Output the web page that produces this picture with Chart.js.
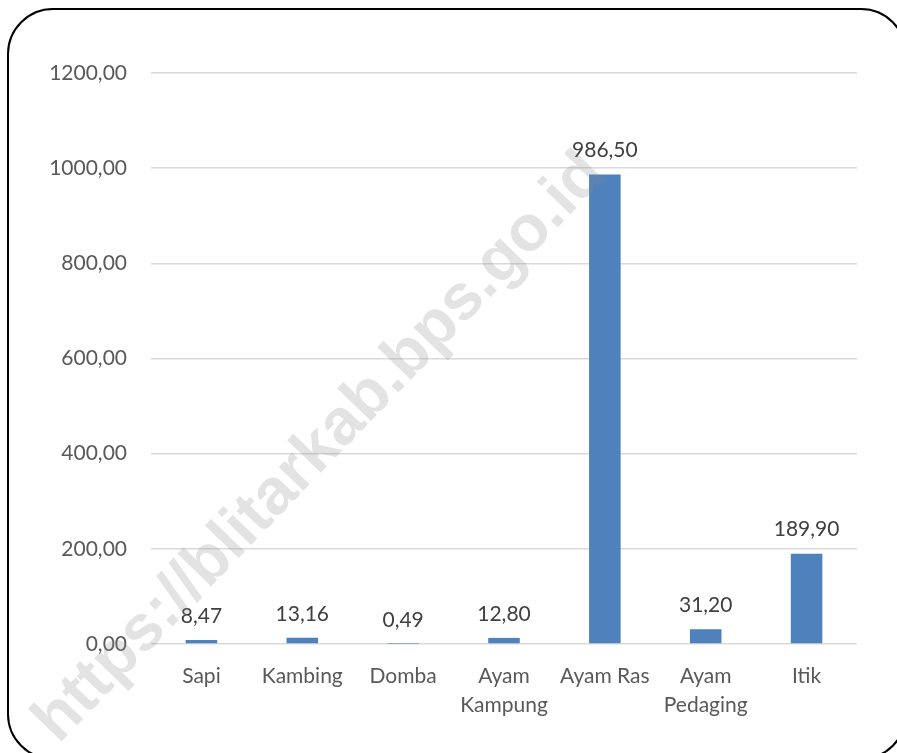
<!DOCTYPE html>
<html>
<head>
<meta charset="utf-8">
<script src="https://cdn.jsdelivr.net/npm/chart.js@4.4.1/dist/chart.umd.min.js"></script>
<style>
  html, body { margin: 0; padding: 0; background: #fff; overflow: hidden; }
  #wrap { position: relative; width: 897px; height: 753px; }
  #frame {
    position: absolute; left: 7px; top: 8px; width: 900px; height: 752px;
    border: 2px solid #000; border-radius: 46px; box-sizing: border-box;
    pointer-events: none;
  }
  canvas { position: absolute; left: 0; top: 0; }
</style>
</head>
<body>
<div id="wrap">
  <canvas id="chart" width="897" height="753"></canvas>
  <div id="frame"></div>
</div>
<script>
var categories = [['Sapi'], ['Kambing'], ['Domba'], ['Ayam', 'Kampung'], ['Ayam Ras'], ['Ayam', 'Pedaging'], ['Itik']];
var values = [8.47, 13.16, 0.49, 12.80, 986.50, 31.20, 189.90];
var yTicks = [0, 200, 400, 600, 800, 1000, 1200];
var watermark = 'https://blitarkab.bps.go.id';

var fontFamily = 'Lato, "Open Sans", sans-serif';
var fontSize = 21;

function fmt(v) {
    return v.toFixed(2).replace('.', ',');
}

// value labels above each bar
var valueLabels = {
    id: 'valueLabels',
    afterDatasetsDraw: function(chart) {
        var ctx = chart.ctx;
        var meta = chart.getDatasetMeta(0);
        ctx.save();
        ctx.font = fontSize + 'px ' + fontFamily;
        ctx.fillStyle = '#404040';
        ctx.textAlign = 'center';
        ctx.textBaseline = 'middle';
        meta.data.forEach(function(bar, i) {
            ctx.fillText(fmt(values[i]), bar.x, bar.y - 24);
        });
        ctx.restore();
    }
};

// diagonal watermark over the chart
var watermarkPlugin = {
    id: 'watermark',
    afterDraw: function(chart) {
        var ctx = chart.ctx;
        ctx.save();
        ctx.font = 'bold 64px "Liberation Sans", Arial, sans-serif';
        var w = ctx.measureText(watermark).width;
        var size = 64 * 790 / w;
        ctx.font = 'bold ' + size + 'px "Liberation Sans", Arial, sans-serif';
        ctx.translate(320, 448);
        ctx.rotate(-46 * Math.PI / 180);
        ctx.fillStyle = 'rgba(140, 140, 140, 0.24)';
        ctx.textAlign = 'center';
        ctx.textBaseline = 'middle';
        ctx.fillText(watermark, 0, 0);
        ctx.restore();
    }
};

var ctx = document.getElementById('chart').getContext('2d');
var chart = new Chart(ctx, {
    type: 'bar',
    data: {
        labels: categories,
        datasets: [{
            data: values,
            backgroundColor: '#4F81BD',
            borderWidth: 0,
            barPercentage: 0.313,
            categoryPercentage: 1.0
        }]
    },
    options: {
        responsive: false,
        animation: false,
        events: [],
        layout: { padding: { left: 0, right: 40, top: 73, bottom: 0 } },
        plugins: {
            legend: { display: false },
            tooltip: { enabled: false }
        },
        scales: {
            x: {
                grid: { display: false },
                border: { display: false },
                ticks: {
                    color: '#595959',
                    padding: 10,
                    maxRotation: 0,
                    autoSkip: false,
                    font: { family: fontFamily, size: fontSize, lineHeight: 1.38 }
                },
                afterFit: function(scale) { scale.height = 109; }
            },
            y: {
                min: 0,
                max: 1200,
                afterBuildTicks: function(scale) {
                    scale.ticks = yTicks.map(function(v) { return { value: v }; });
                },
                grid: { color: '#D9D9D9', lineWidth: 1.5, drawTicks: false },
                border: { display: false },
                ticks: {
                    color: '#595959',
                    padding: 24,
                    font: { family: fontFamily, size: fontSize },
                    callback: function(v) { return fmt(v); }
                },
                afterFit: function(scale) { scale.width = 151; }
            }
        }
    },
    plugins: [valueLabels, watermarkPlugin]
});
</script>
</body>
</html>
